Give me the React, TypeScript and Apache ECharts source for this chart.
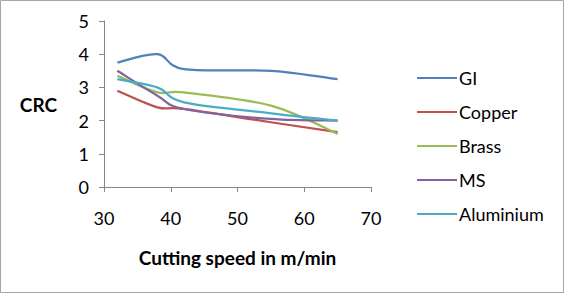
import React, { useEffect, useRef } from "react";
import * as echarts from "echarts";

// Cutting speed (m/min) at which CRC was measured
const speeds = [32, 38, 42, 55, 65];

const gi = [3.75, 4.0, 3.55, 3.5, 3.25];
const copper = [2.9, 2.4, 2.35, 1.95, 1.65];
const brass = [3.35, 2.85, 2.85, 2.45, 1.6];
const ms = [3.5, 2.75, 2.35, 2.05, 2.0];
const aluminium = [3.25, 3.0, 2.55, 2.22, 2.0];

const seriesNames = ["GI", "Copper", "Brass", "MS", "Aluminium"];
const seriesValues = [gi, copper, brass, ms, aluminium];
const colors = ["#4F81BD", "#C0504D", "#9BBB59", "#8064A2", "#4BACC6"];

const xTicks = { min: 30, max: 70, interval: 10 };
const yTicks = { min: 0, max: 5, interval: 1 };

const FONT = "Lato, 'Open Sans', sans-serif";

// Catmull-Rom style smoothed path through screen points
function smoothPath(pts: number[][]): string {
  if (pts.length < 2) return "";
  let d = `M${pts[0][0]},${pts[0][1]}`;
  for (let i = 0; i < pts.length - 1; i++) {
    const p0 = pts[i - 1] || pts[i];
    const p1 = pts[i];
    const p2 = pts[i + 1];
    const p3 = pts[i + 2] || p2;
    const c1x = p1[0] + (p2[0] - p0[0]) / 6;
    const c1y = p1[1] + (p2[1] - p0[1]) / 6;
    const c2x = p2[0] - (p3[0] - p1[0]) / 6;
    const c2y = p2[1] - (p3[1] - p1[1]) / 6;
    d += ` C${c1x},${c1y} ${c2x},${c2y} ${p2[0]},${p2[1]}`;
  }
  return d;
}

export default function App() {
  const ref = useRef<HTMLDivElement>(null);

  useEffect(() => {
    if (!ref.current) return;
    const chart = echarts.init(ref.current, undefined, { renderer: "svg" });
    chart.setOption({
      animation: false,
      backgroundColor: "#ffffff",
      textStyle: { fontFamily: FONT },
      grid: { left: 104, top: 21, right: 198, bottom: 113 },
      legend: {
        orient: "vertical",
        left: 412,
        top: 64,
        itemWidth: 40,
        itemHeight: 2,
        itemGap: 16,
        icon: "rect",
        textStyle: { fontSize: 18, color: "#000", fontFamily: FONT, padding: [0, 0, 0, -3] },
        data: seriesNames,
      },
      xAxis: {
        type: "value",
        min: xTicks.min,
        max: xTicks.max,
        interval: xTicks.interval,
        name: "Cutting speed in m/min",
        nameLocation: "middle",
        nameGap: 61,
        nameTextStyle: { fontSize: 19, fontWeight: "bold", color: "#000", fontFamily: FONT },
        axisLine: { lineStyle: { color: "#868686", width: 1 } },
        axisTick: { show: true, length: 5, lineStyle: { color: "#868686" } },
        axisLabel: { fontSize: 18, color: "#000", margin: 22, fontFamily: FONT },
        splitLine: { show: false },
      },
      yAxis: {
        type: "value",
        min: yTicks.min,
        max: yTicks.max,
        interval: yTicks.interval,
        name: "CRC",
        nameLocation: "middle",
        nameRotate: 0,
        nameGap: 47,
        nameTextStyle: { fontSize: 19, fontWeight: "bold", color: "#000", fontFamily: FONT },
        axisLine: { show: true, lineStyle: { color: "#868686", width: 1 } },
        axisTick: { show: true, length: 5, lineStyle: { color: "#868686" } },
        axisLabel: { fontSize: 18, color: "#000", margin: 15, fontFamily: FONT },
        splitLine: { show: false },
      },
      series: seriesNames.map((name, i) => ({
        name,
        type: "custom",
        data: speeds.map((s, j) => [s, seriesValues[i][j]]),
        encode: { x: 0, y: 1 },
        itemStyle: { color: colors[i] },
        renderItem: (params: any, api: any) => {
          if (params.dataIndex !== 0) return null;
          const pts = speeds.map((s, j) => api.coord([s, seriesValues[i][j]]));
          return {
            type: "path",
            shape: { pathData: smoothPath(pts) },
            style: { fill: "none", stroke: colors[i], lineWidth: 2.25 },
          };
        },
      })),
      graphic: [
        {
          type: "rect",
          shape: { x: 0.5, y: 0.5, width: 563, height: 292 },
          style: { fill: "none", stroke: "#a6a6a6", lineWidth: 1 },
          silent: true,
        },
      ],
    });
    return () => chart.dispose();
  }, []);

  return (
    <div
      ref={ref}
      style={{ position: "fixed", left: 0, top: 0, width: 569, height: 300 }}
    />
  );
}
